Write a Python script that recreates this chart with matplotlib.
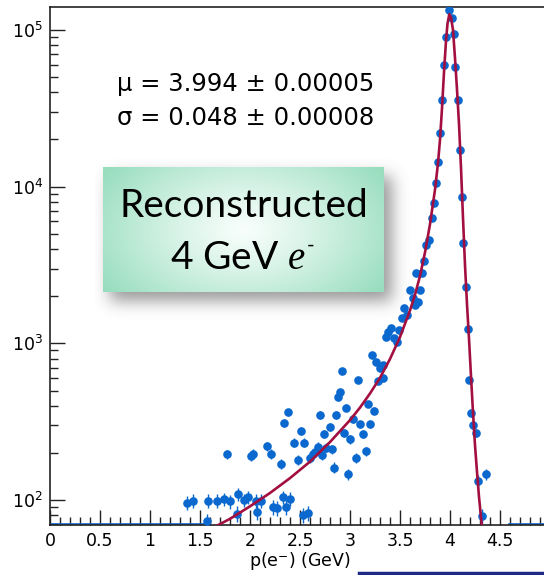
import numpy as np
import matplotlib
matplotlib.use("Agg")
import matplotlib.pyplot as plt
from matplotlib.ticker import MultipleLocator, FuncFormatter, LogLocator, NullFormatter
from matplotlib.lines import Line2D

plt.rcParams['font.family'] = ['DejaVu Sans']
plt.rcParams['mathtext.fontset'] = 'custom'
plt.rcParams['mathtext.rm'] = 'DejaVu Sans'
plt.rcParams['mathtext.it'] = 'Liberation Serif:italic'

# reconstructed momentum histogram (bin centre, counts)
p_vals = [1.37, 1.43, 1.57, 1.58, 1.67, 1.74, 1.77, 1.80, 1.87, 1.88, 1.94, 1.98,
          2.01, 2.03, 2.06, 2.07, 2.11, 2.17, 2.21, 2.23, 2.27, 2.31, 2.33, 2.34,
          2.36, 2.38, 2.40, 2.44, 2.48, 2.51, 2.53, 2.54, 2.58, 2.60, 2.63, 2.65,
          2.68, 2.70, 2.72, 2.74, 2.76, 2.80, 2.82, 2.84, 2.86, 2.88, 2.90, 2.92,
          2.94, 2.96, 2.98, 3.00, 3.03, 3.06, 3.08, 3.10, 3.13, 3.16, 3.18, 3.20,
          3.22, 3.24, 3.26, 3.28, 3.30, 3.33, 3.33, 3.36, 3.38, 3.41, 3.44, 3.47,
          3.49, 3.52, 3.54, 3.57, 3.60, 3.63, 3.65, 3.66, 3.68, 3.70, 3.72, 3.74,
          3.76, 3.79, 3.82, 3.84, 3.86, 3.88, 3.90, 3.92, 3.94, 3.957, 3.993, 4.023,
          4.043, 4.053, 4.08, 4.10, 4.12, 4.13, 4.16, 4.18, 4.19, 4.21, 4.23, 4.26,
          4.28, 4.32, 4.36]
counts = [96, 99, 73, 99, 99, 101, 196, 98, 82, 109, 100, 104,
          191, 198, 99, 84, 99, 221, 198, 90, 89, 171, 104, 309,
          90, 363, 102, 232, 180, 277, 80, 232, 83, 185, 197, 203,
          219, 350, 194, 264, 216, 291, 211, 161, 350, 452, 487, 668,
          267, 388, 146, 245, 329, 186, 585, 304, 264, 205, 410, 304,
          841, 372, 757, 573, 692, 727, 598, 1092, 1186, 1247, 1076, 1024,
          1216, 1445, 1673, 1517, 2188, 1935, 1754, 2800, 1842, 2190, 2820, 3370,
          4240, 4560, 6280, 7890, 10500, 14300, 22100, 35700, 59700, 89700, 134000, 118600,
          94300, 58200, 35700, 17100, 8550, 4350, 2300, 1227, 583, 357, 301, 267,
          133, 79, 146]

# fitted line shape (log10 of counts)
fit_p = [1.62, 1.80, 2.00, 2.20, 2.40, 2.60, 2.80, 3.00, 3.10, 3.20, 3.30, 3.40,
         3.50, 3.60, 3.65, 3.70, 3.75, 3.80, 3.85, 3.88, 3.90, 3.92, 3.94, 3.96,
         3.975, 3.993, 4.01, 4.03, 4.05, 4.07, 4.09, 4.11, 4.13, 4.15, 4.17, 4.19,
         4.21, 4.23, 4.25, 4.27, 4.29, 4.31, 4.325]
fit_log = [1.82, 1.88, 1.96, 2.045, 2.14, 2.245, 2.37, 2.51, 2.59, 2.68, 2.78, 2.90,
           3.04, 3.21, 3.31, 3.43, 3.58, 3.76, 3.98, 4.15, 4.30, 4.50, 4.73, 4.93,
           5.04, 5.10, 5.08, 5.00, 4.82, 4.62, 4.40, 4.12, 3.80, 3.50, 3.25, 3.03,
           2.79, 2.56, 2.35, 2.18, 2.02, 1.89, 1.80]

# empty bins drawn along the bottom
empty_ranges = [(0.0, 1.55), (4.59, 4.94)]

fit_text = ["\u03bc = 3.994 \u00b1 0.00005", "\u03c3 = 0.048 \u00b1 0.00008"]

W, H = 544, 575
fig = plt.figure(figsize=(W / 100, H / 100), dpi=100)
ax = fig.add_axes([50 / W, 50 / H, 494 / W, 518 / H])

ax.set_yscale('log')
ax.set_xlim(0, 4.94)
ax.set_ylim(69.3, 140000)

blue = '#0b68cf'
ax.errorbar(p_vals, counts, yerr=np.sqrt(counts), fmt='o', color=blue, ms=6.2,
            mew=0, elinewidth=1, capsize=1.5, capthick=1, zorder=3)
ax.plot(fit_p, 10 ** np.array(fit_log), color='#a3103f', lw=1.9, zorder=4)
for a, b in empty_ranges:
    ax.plot([a, b], [70.5, 70.5], color=blue, lw=1.2, zorder=2)

ax.xaxis.set_major_locator(MultipleLocator(0.5))
ax.xaxis.set_minor_locator(MultipleLocator(0.1))
ax.xaxis.set_major_formatter(FuncFormatter(lambda v, _: '%g' % v))
ax.yaxis.set_major_locator(LogLocator(base=10))
ax.yaxis.set_minor_locator(LogLocator(base=10, subs=np.arange(2, 10)))
ax.yaxis.set_minor_formatter(NullFormatter())
ax.tick_params(which='both', direction='in', top=False, right=False, labelsize=12.5,
               width=1, color='#222222')
ax.tick_params(which='major', length=10.8, pad=5)
ax.tick_params(which='minor', length=5.8)
ax.spines['right'].set_visible(False)
for s in ['left', 'bottom', 'top']:
    ax.spines[s].set_linewidth(1.2)
    ax.spines[s].set_color('#222222')

fig.text(300 / W, 1 - 561 / H, r'p(e$^{\mathdefault{-}}$) (GeV)', fontsize=12.5,
         ha='center', va='center')

fig.text(117 / W, 1 - 84 / H, fit_text[0], fontsize=17.5, ha='left', va='center')
fig.text(117 / W, 1 - 118 / H, fit_text[1], fontsize=17.5, ha='left', va='center')

# label box with radial green gradient and soft shadow
bx0, by0, bx1, by1 = 95, 158, 425, 330
nx, ny = bx1 - bx0, by1 - by0
yy, xx = np.mgrid[by0:by1, bx0:bx1] + 0.5
box = (xx >= 103) & (xx <= 384) & (yy >= 167) & (yy <= 292)
sh = ((xx >= 110) & (xx <= 392) & (yy >= 176) & (yy <= 301)).astype(float)
k = np.exp(-0.5 * (np.arange(-24, 25) / 8.0) ** 2)
k /= k.sum()
sh = np.apply_along_axis(lambda r: np.convolve(r, k, mode='same'), 1, sh)
sh = np.apply_along_axis(lambda c: np.convolve(c, k, mode='same'), 0, sh)
img = np.zeros((ny, nx, 4))
img[..., :3] = 0.33
img[..., 3] = sh * 0.6
rr = np.sqrt((xx - 244) ** 2 + (1.6 * (yy - 230)) ** 2) / 165
t = np.clip(rr, 0, 1) ** 1.2
mint = np.array([0.60, 0.87, 0.75])
grad = (1 - t[..., None]) * np.array([0.97, 0.995, 0.985]) + t[..., None] * mint
img[box, :3] = grad[box]
img[box, 3] = 1
bax = fig.add_axes([bx0 / W, 1 - by1 / H, nx / W, ny / H])
bax.imshow(img, aspect='auto', interpolation='bilinear')
bax.axis('off')

fig.text(244 / W, 1 - 206 / H, 'Reconstructed', fontsize=28, family='Lato',
         ha='center', va='center')
fig.text(306 / W, 1 - 258 / H, r'4 GeV $e$', fontsize=28,
         family='Lato', ha='right', va='center')
fig.text(307 / W, 1 - 246 / H, '-', fontsize=15, family='Lato',
         ha='left', va='center')

fig.add_artist(Line2D([359 / W, 1], [2 / H, 2 / H], color='#1f2a86', lw=2.5))

fig.savefig('out.png', dpi=100)
